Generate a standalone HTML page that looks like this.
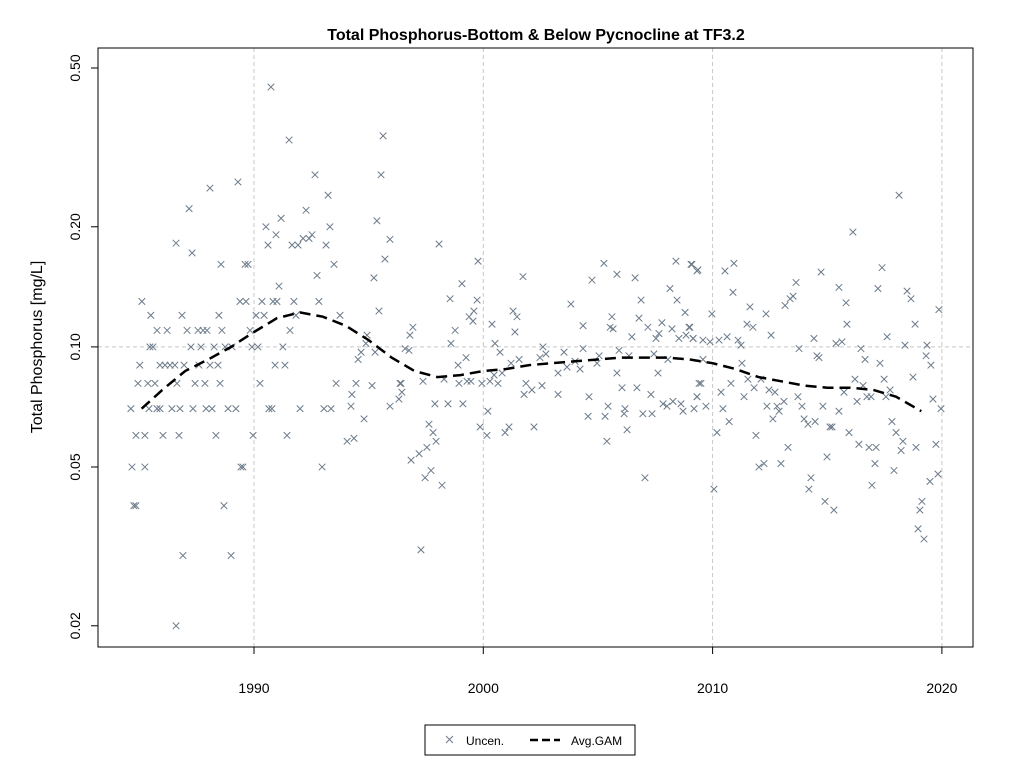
<!DOCTYPE html>
<html><head><meta charset="utf-8"><style>
html,body{margin:0;padding:0;background:#fff;}
svg{display:block;font-family:"Liberation Sans",Arial,sans-serif;}
</style></head><body>
<svg id="chart" width="1024" height="768" viewBox="0 0 1024 768">
<text x="536" y="40" text-anchor="middle" font-size="16" font-weight="bold">Total Phosphorus-Bottom &amp; Below Pycnocline at TF3.2</text>
<text transform="translate(42,347) rotate(-90)" text-anchor="middle" font-size="16">Total Phosphorus [mg/L]</text>
<g id="grid"></g>
<g id="points"></g>
<path id="gam" fill="none" stroke="#000" stroke-width="2.5" stroke-dasharray="11,6"></path>
<rect x="98" y="48" width="875" height="599" fill="none" stroke="#000" stroke-width="1"></rect>
<g id="axes"></g>
<g>
<rect x="425" y="725" width="210" height="30" fill="#fff" stroke="#000"></rect>
<g>
<path d="M446,736 l7,7 M453,736 l-7,7" stroke="#6c7b8b" stroke-width="1"></path>
<text x="466" y="745" font-size="12">Uncen.</text>
</g>
<g>
<path d="M530,740 h30" stroke="#000" stroke-width="2.5" stroke-dasharray="8,4"></path>
<text x="571" y="745" font-size="12">Avg.GAM</text>
</g>
</g>
</svg>
<script>
const xTicks = [1990, 2000, 2010, 2020];
const yTicks = [0.02, 0.05, 0.10, 0.20, 0.50];
const yTickLabels = ["0.02", "0.05", "0.10", "0.20", "0.50"];
const obsYears = [1984.63,1984.68,1984.76,1984.85,1984.85,1984.94,1985.11,1985.24,1985.24,1985.37,1985.42,1985.46,1985.5,1985.59,1985.68,1985.77,1985.77,1985.9,1985.9,1986.03,1986.12,1986.21,1986.34,1986.42,1986.6,1986.6,1986.64,1986.73,1986.86,1986.9,1986.95,1987.08,1987.17,1987.25,1987.3,1987.34,1987.43,1987.56,1987.6,1987.69,1987.78,1987.86,1987.95,1988.08,1988.08,1988.17,1988.26,1988.34,1988.43,1988.47,1988.56,1988.6,1988.69,1988.74,1988.87,1989.0,1989.04,1989.21,1989.3,1989.39,1989.43,1989.52,1989.61,1989.65,1989.74,1989.83,1989.91,1989.96,1985.02,1986.55,1987.91,1988.52,1986.77,
1990.09,1990.17,1990.26,1990.35,1990.44,1990.52,1990.61,1990.65,1990.74,1990.78,1990.83,1990.92,1990.96,1991.0,1991.09,1991.18,1991.26,1991.35,1991.44,1991.53,1991.57,1991.66,1991.74,1991.83,1991.92,1992.01,1992.14,1992.27,1992.4,1992.53,1992.66,1992.75,1992.83,1992.97,1993.05,1993.14,1993.23,1993.31,1993.36,1993.49,1993.58,1993.75,
1995.63,1995.54,1995.36,1995.93,1995.71,1995.23,1995.45,1994.93,1994.88,1994.67,1995.28,1994.54,1994.45,1994.27,1995.15,1994.23,1994.8,1994.06,1994.36,1995.93,1996.32,1996.41,
1998.07,1999.77,1999.07,1998.55,1999.73,1999.59,1999.38,1999.55,1996.93,1996.8,1998.77,1996.59,1996.76,1998.59,1999.25,1998.9,1998.29,1997.37,1998.94,1999.29,1999.46,1999.94,1997.89,1998.46,1999.11,1997.63,1997.81,1997.94,1997.54,1997.2,1996.85,1997.72,1997.46,1998.2,1997.28,1996.37,1996.45,
2000.38,2000.51,2000.73,2000.47,2000.82,2000.29,2000.64,2000.2,1999.86,2000.16,2001.12,2000.95,2001.73,2001.3,2001.47,2001.38,2001.21,2001.56,2001.86,2001.78,2002.12,2002.56,2002.21,2002.6,2002.47,2002.73,2003.52,2003.26,2003.65,2004.0,2004.22,2003.26,2003.82,2004.35,2004.35,2004.61,2004.57,2004.74,2005.26,2005.83,2006.62,2006.88,2005.61,2005.53,2005.66,2005.05,2004.96,2005.92,2005.83,2006.05,2005.44,2005.31,2005.39,2006.18,2006.14,2006.27,2006.7,2006.96,2007.36,2007.05,2006.79,2006.48,2007.18,2007.79,2007.66,2007.53,2006.35,2007.44,2007.62,2007.31,2008.14,2008.4,2009.06,2009.32,2008.45,2008.8,2008.23,2008.97,2008.53,2008.84,2009.15,2008.05,2007.84,2008.01,2008.27,2008.62,2008.71,2009.19,2009.32,2009.41,
2018.13,2016.12,2010.93,2010.54,2009.1,2009.36,2017.39,2014.73,2013.64,2015.51,2017.21,2018.48,2018.65,2010.89,2013.51,2013.38,2013.16,2011.63,2015.82,2019.87,2009.97,2012.33,2011.5,2011.76,2015.86,2018.83,2012.55,2009.01,2009.15,2009.58,2009.89,2010.28,2010.63,2011.11,2011.24,2014.42,2015.38,2015.64,2017.61,2013.77,2016.47,2018.39,2019.35,2019.31,2014.55,2014.64,2016.65,2017.3,2019.52,2009.58,2011.28,2009.49,2009.32,2009.71,2010.37,2010.8,2010.45,2010.72,2011.54,2011.81,2011.37,2012.11,2012.46,2012.72,2012.37,2012.81,2012.9,2013.11,2012.63,2013.72,2013.9,2013.99,2014.16,2014.47,2014.81,2015.12,2015.21,2015.51,2015.73,2015.95,2016.21,2016.3,2016.56,2016.73,2016.91,2017.48,2017.74,2017.56,2018.74,2019.61,2019.96,2017.82,2018.0,2018.3,2018.22,2018.87,2019.74,2016.38,2016.82,2017.13,2017.08,2017.91,2019.83,2019.48,2014.99,2013.29,2012.98,2011.89,2012.24,2012.02,2010.19,2010.06,2014.29,2014.2,2016.95,2014.9,2015.29,2019.13,2019.04,2018.96,2019.22];
const obsValues = [0.070,0.050,0.040,0.040,0.060,0.081,0.130,0.060,0.050,0.081,0.070,0.100,0.120,0.100,0.081,0.070,0.110,0.070,0.090,0.060,0.090,0.110,0.090,0.070,0.020,0.182,0.081,0.060,0.120,0.030,0.090,0.110,0.222,0.100,0.172,0.070,0.081,0.110,0.090,0.100,0.110,0.081,0.110,0.250,0.090,0.070,0.100,0.060,0.090,0.120,0.161,0.110,0.040,0.100,0.070,0.030,0.100,0.070,0.259,0.130,0.050,0.050,0.161,0.130,0.161,0.110,0.100,0.060,0.090,0.090,0.070,0.081,0.070,
0.120,0.100,0.081,0.130,0.120,0.200,0.180,0.070,0.448,0.070,0.130,0.090,0.191,0.130,0.142,0.210,0.100,0.090,0.060,0.330,0.110,0.180,0.130,0.120,0.180,0.070,0.187,0.220,0.187,0.191,0.270,0.151,0.130,0.050,0.070,0.180,0.240,0.200,0.070,0.161,0.081,0.120,
0.338,0.270,0.207,0.186,0.166,0.149,0.123,0.107,0.102,0.097,0.097,0.093,0.081,0.076,0.080,0.071,0.066,0.058,0.059,0.071,0.074,0.081,
0.181,0.164,0.144,0.132,0.131,0.123,0.119,0.116,0.112,0.107,0.110,0.099,0.098,0.102,0.094,0.090,0.083,0.082,0.081,0.082,0.082,0.081,0.072,0.072,0.072,0.064,0.061,0.058,0.056,0.054,0.052,0.049,0.047,0.045,0.031,0.081,0.077,
0.114,0.102,0.097,0.085,0.086,0.082,0.081,0.069,0.063,0.060,0.063,0.061,0.150,0.123,0.119,0.109,0.091,0.093,0.081,0.076,0.078,0.080,0.063,0.100,0.094,0.096,0.097,0.086,0.089,0.092,0.088,0.076,0.128,0.113,0.099,0.075,0.067,0.147,0.162,0.152,0.149,0.131,0.119,0.112,0.111,0.095,0.091,0.098,0.086,0.079,0.071,0.067,0.058,0.070,0.068,0.062,0.079,0.068,0.068,0.047,0.118,0.106,0.112,0.115,0.108,0.105,0.095,0.096,0.086,0.076,0.140,0.164,0.161,0.155,0.131,0.122,0.111,0.112,0.105,0.107,0.105,0.093,0.072,0.071,0.073,0.072,0.069,0.070,0.075,0.081,
0.240,0.194,0.162,0.155,0.161,0.156,0.158,0.154,0.145,0.141,0.140,0.138,0.132,0.137,0.134,0.132,0.127,0.126,0.129,0.124,0.121,0.121,0.114,0.112,0.114,0.114,0.107,0.112,0.105,0.104,0.103,0.104,0.106,0.104,0.101,0.105,0.102,0.103,0.106,0.099,0.099,0.101,0.101,0.095,0.095,0.094,0.093,0.091,0.090,0.093,0.091,0.081,0.075,0.071,0.077,0.081,0.070,0.065,0.083,0.079,0.075,0.083,0.078,0.077,0.071,0.071,0.069,0.073,0.066,0.075,0.071,0.066,0.064,0.065,0.071,0.063,0.063,0.069,0.077,0.061,0.083,0.073,0.080,0.075,0.075,0.083,0.078,0.075,0.084,0.074,0.070,0.065,0.061,0.058,0.055,0.056,0.057,0.057,0.056,0.056,0.051,0.049,0.048,0.046,0.053,0.056,0.051,0.060,0.051,0.050,0.061,0.044,0.047,0.044,0.045,0.041,0.039,0.041,0.039,0.035,0.033];
const gamYears = [1985.1,1986,1987,1988,1989,1990,1991,1992,1993,1994,1995,1996,1997,1998,1999,2000,2001,2002,2003,2004,2005,2006,2007,2008,2009,2010,2011,2012,2013,2014,2015,2016,2017,2018,2019.1];
const gamValues = [0.070,0.078,0.087,0.093,0.100,0.109,0.118,0.122,0.119,0.113,0.104,0.094,0.087,0.084,0.085,0.087,0.088,0.090,0.091,0.092,0.093,0.094,0.094,0.094,0.093,0.091,0.088,0.084,0.082,0.080,0.079,0.079,0.078,0.075,0.069];

const NS = "http://www.w3.org/2000/svg";
function xScale(yr){ return 254 + (yr - 1990) * 22.93; }
function yScale(v){ return 68 + (Math.log10(0.5) - Math.log10(v)) * 399; }
function mk(tag, attrs, parent){ const e = document.createElementNS(NS, tag); for (const k in attrs) e.setAttribute(k, attrs[k]); parent.appendChild(e); return e; }

const grid = document.getElementById('grid');
xTicks.forEach(t => {
  const l = mk('line', {x1: xScale(t), x2: xScale(t), y1: 48, y2: 647, stroke: '#c8c8c8', 'stroke-dasharray': '4,3'}, grid);
  
  
});
const hg = mk('line', {x1: 98, x2: 973, y1: yScale(0.1), y2: yScale(0.1), stroke: '#c8c8c8', 'stroke-dasharray': '4,3'}, grid);



const axes = document.getElementById('axes');
xTicks.forEach(t => {
  const x = xScale(t);
  const tk = mk('line', {x1: x, x2: x, y1: 647, y2: 654, stroke: '#000'}, axes);
  
  
  const tx = mk('text', {x: x, y: 693, 'text-anchor': 'middle', 'font-size': '14'}, axes);
  tx.textContent = String(t);
  
  
});
yTicks.forEach((t, i) => {
  const y = yScale(t);
  const tk = mk('line', {x1: 91, x2: 98, y1: y, y2: y, stroke: '#000'}, axes);
  
  
  const tx = mk('text', {transform: 'translate(80,' + y + ') rotate(-90)', 'text-anchor': 'middle', 'font-size': '14'}, axes);
  tx.textContent = yTickLabels[i];
  
  
});

const pts = document.getElementById('points');
obsYears.forEach((yr, i) => {
  const x = xScale(yr), y = yScale(obsValues[i]), s = 3.3;
  const p = mk('path', {d: `M${x-s},${y-s}L${x+s},${y+s}M${x+s},${y-s}L${x-s},${y+s}`, stroke: '#6c7b8b', 'stroke-width': '1', fill: 'none'}, pts);
  
  
});

let d = '';
gamYears.forEach((yr, i) => { d += (i ? 'L' : 'M') + xScale(yr).toFixed(1) + ',' + yScale(gamValues[i]).toFixed(1); });
document.getElementById('gam').setAttribute('d', d);
</script>
</body></html>
